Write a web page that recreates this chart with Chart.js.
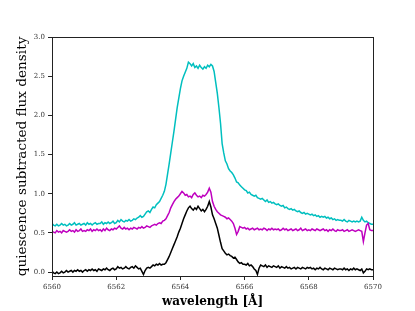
<!DOCTYPE html>
<html>
<head>
<meta charset="utf-8">
<script src="https://cdn.jsdelivr.net/npm/chart.js@4"></script>
<style>
  html, body { margin: 0; padding: 0; background: #fff; }
  #wrap { width: 415px; height: 311px; }
</style>
</head>
<body>
<div id="wrap"><canvas id="chart" width="415" height="311"></canvas></div>
<script>
// wavelength grid: 6560 .. 6570 A, step 0.05
const wlStart = 6560;
const wlStep = 0.05;

const cyanFlux = [
  0.62,0.60,0.59,0.61,0.59,0.60,0.62,0.60,0.61,0.59,
  0.60,0.62,0.60,0.61,0.63,0.60,0.61,0.62,0.60,0.61,
  0.62,0.60,0.63,0.61,0.62,0.60,0.62,0.63,0.61,0.62,
  0.62,0.64,0.61,0.63,0.62,0.64,0.62,0.63,0.65,0.62,
  0.63,0.66,0.64,0.67,0.65,0.64,0.66,0.65,0.67,0.65,
  0.66,0.68,0.67,0.69,0.70,0.72,0.70,0.71,0.74,0.77,
  0.78,0.76,0.80,0.83,0.82,0.86,0.88,0.90,0.94,0.98,
  1.03,1.12,1.25,1.38,1.52,1.66,1.80,1.95,2.10,2.22,
  2.34,2.44,2.50,2.55,2.60,2.68,2.66,2.63,2.66,2.61,
  2.63,2.60,2.64,2.61,2.59,2.62,2.60,2.64,2.62,2.65,
  2.63,2.56,2.42,2.28,2.10,1.90,1.64,1.52,1.42,1.38,
  1.32,1.29,1.27,1.24,1.20,1.15,1.14,1.11,1.09,1.07,
  1.05,1.04,1.01,1.02,0.99,0.98,0.97,0.98,0.95,0.94,
  0.93,0.94,0.92,0.90,0.92,0.89,0.90,0.88,0.89,0.87,
  0.86,0.87,0.85,0.84,0.85,0.82,0.83,0.81,0.80,0.81,
  0.79,0.80,0.78,0.77,0.78,0.76,0.75,0.76,0.74,0.75,
  0.74,0.73,0.74,0.72,0.73,0.71,0.72,0.70,0.71,0.70,
  0.71,0.69,0.70,0.68,0.69,0.67,0.68,0.66,0.67,0.66,
  0.66,0.65,0.67,0.65,0.64,0.66,0.65,0.64,0.65,0.64,
  0.65,0.64,0.65,0.70,0.66,0.64,0.65,0.63,0.62,0.61,
  0.61
];

const magentaFlux = [
  0.52,0.51,0.50,0.53,0.51,0.52,0.50,0.53,0.52,0.51,
  0.52,0.54,0.52,0.53,0.51,0.54,0.52,0.53,0.55,0.52,
  0.53,0.52,0.54,0.53,0.55,0.52,0.54,0.53,0.55,0.53,
  0.54,0.52,0.55,0.53,0.56,0.54,0.53,0.55,0.54,0.56,
  0.55,0.57,0.59,0.56,0.55,0.57,0.55,0.56,0.54,0.56,
  0.55,0.57,0.56,0.55,0.57,0.56,0.58,0.56,0.57,0.59,
  0.58,0.57,0.59,0.60,0.61,0.60,0.62,0.63,0.62,0.65,
  0.66,0.68,0.72,0.76,0.82,0.86,0.90,0.93,0.95,0.97,
  1.00,1.03,1.01,0.98,0.99,0.96,0.97,0.95,0.99,1.01,
  0.98,0.96,0.97,0.95,0.98,0.97,0.99,1.02,1.07,1.02,
  0.90,0.84,0.80,0.77,0.75,0.73,0.72,0.71,0.70,0.68,
  0.69,0.67,0.65,0.62,0.56,0.48,0.52,0.58,0.57,0.56,
  0.57,0.55,0.56,0.54,0.55,0.56,0.54,0.55,0.56,0.54,
  0.55,0.54,0.56,0.55,0.53,0.55,0.54,0.56,0.54,0.55,
  0.54,0.55,0.53,0.54,0.56,0.54,0.55,0.53,0.54,0.55,
  0.53,0.54,0.55,0.53,0.54,0.56,0.53,0.54,0.55,0.53,
  0.54,0.53,0.55,0.54,0.53,0.55,0.54,0.53,0.54,0.55,
  0.53,0.54,0.52,0.54,0.53,0.55,0.53,0.52,0.54,0.53,
  0.53,0.54,0.52,0.53,0.54,0.52,0.53,0.54,0.53,0.52,
  0.53,0.54,0.53,0.52,0.39,0.50,0.60,0.62,0.54,0.53,
  0.53
];

const blackFlux = [
  0.01,-0.01,-0.02,0.00,-0.02,-0.01,0.01,-0.01,0.00,0.02,
  0.00,0.01,0.02,0.00,0.02,0.01,0.03,0.01,0.02,0.00,
  0.02,0.03,0.01,0.03,0.02,0.04,0.02,0.03,0.01,0.04,
  0.03,0.02,0.04,0.03,0.05,0.03,0.02,0.04,0.05,0.03,
  0.04,0.07,0.05,0.06,0.04,0.05,0.07,0.05,0.04,0.06,
  0.07,0.05,0.08,0.06,0.04,0.05,0.01,-0.03,0.02,0.05,
  0.06,0.05,0.07,0.09,0.08,0.10,0.09,0.11,0.09,0.10,
  0.10,0.12,0.16,0.20,0.25,0.30,0.35,0.40,0.45,0.51,
  0.56,0.62,0.68,0.73,0.78,0.82,0.84,0.81,0.79,0.82,
  0.80,0.84,0.81,0.78,0.80,0.77,0.80,0.84,0.90,0.83,
  0.73,0.68,0.62,0.56,0.47,0.38,0.30,0.27,0.24,0.22,
  0.23,0.21,0.20,0.18,0.19,0.16,0.13,0.11,0.12,0.10,
  0.10,0.09,0.11,0.08,0.09,0.07,0.04,0.02,-0.03,0.05,
  0.09,0.08,0.07,0.09,0.06,0.08,0.07,0.06,0.08,0.07,
  0.06,0.08,0.05,0.07,0.06,0.05,0.07,0.05,0.06,0.04,
  0.05,0.06,0.04,0.06,0.05,0.04,0.06,0.05,0.04,0.06,
  0.05,0.06,0.04,0.05,0.03,0.05,0.04,0.06,0.04,0.03,
  0.05,0.04,0.03,0.05,0.04,0.03,0.05,0.04,0.03,0.04,
  0.04,0.03,0.05,0.03,0.04,0.02,0.04,0.03,0.05,0.03,
  0.04,0.03,0.02,0.04,-0.01,0.01,0.04,0.03,0.04,0.03,
  0.03
];

const xTicks = [6560, 6562, 6564, 6566, 6568, 6570];
const yTicks = [0.0, 0.5, 1.0, 1.5, 2.0, 2.5, 3.0];

const wavelengths = cyanFlux.map((_, i) => +(wlStart + i * wlStep).toFixed(2));
const toPoints = (vals) => vals.map((v, i) => ({ x: wavelengths[i], y: v }));

const serif = "'DejaVu Serif', serif";

// top and right spines
const frame = {
  id: "frame",
  afterDatasetsDraw(chart) {
    const { ctx, chartArea: a } = chart;
    ctx.save();
    ctx.strokeStyle = "#222";
    ctx.lineWidth = 1;
    ctx.strokeRect(Math.round(a.left) + 0.5, Math.round(a.top) + 0.5,
      Math.round(a.right - a.left), Math.round(a.bottom - a.top));
    ctx.restore();
  },
};

const config = {
  type: "line",
  data: {
    datasets: [
      { data: toPoints(blackFlux), borderColor: "#000000", borderWidth: 1.5, radius: 0 },
      { data: toPoints(magentaFlux), borderColor: "rgb(191,0,191)", borderWidth: 1.5, radius: 0 },
      { data: toPoints(cyanFlux), borderColor: "rgb(0,191,191)", borderWidth: 1.5, radius: 0 },
    ],
  },
  options: {
    responsive: false,
    animation: false,
    layout: { padding: { left: 0, right: 42, top: 37, bottom: 0 } },
    plugins: { legend: false, tooltip: { enabled: false } },
    scales: {
      x: {
        type: "linear",
        min: 6560,
        max: 6570,
        afterBuildTicks: (s) => { s.ticks = xTicks.map((v) => ({ value: v })); },
        afterFit: (s) => { s.height = 35; },
        ticks: {
          color: "#333",
          font: { family: serif, size: 7 },
          padding: 3,
          maxRotation: 0,
          callback: (v) => v.toFixed(0),
        },
        grid: { drawOnChartArea: false, drawTicks: true, tickLength: 4, color: "#222" },
        border: { display: true, color: "#222", width: 1 },
        title: {
          display: true,
          text: "wavelength [Å]",
          color: "#000",
          font: { family: serif, size: 12, weight: "bold" },
          padding: { top: 0, bottom: 2 },
        },
      },
      y: {
        min: -0.05,
        max: 3.0,
        afterBuildTicks: (s) => { s.ticks = yTicks.map((v) => ({ value: v })); },
        afterFit: (s) => { s.width = 52; },
        ticks: {
          color: "#333",
          font: { family: serif, size: 7 },
          padding: 3,
          callback: (v) => v.toFixed(1),
        },
        grid: { drawOnChartArea: false, drawTicks: true, tickLength: 4, color: "#222" },
        border: { display: true, color: "#222", width: 1 },
        title: {
          display: true,
          text: "quiescence subtracted flux density",
          color: "#000",
          font: { family: serif, size: 13.6 },
          padding: { top: 14, bottom: 0 },
        },
      },
    },
  },
  plugins: [frame],
};

new Chart(document.getElementById("chart"), config);
</script>
</body>
</html>
